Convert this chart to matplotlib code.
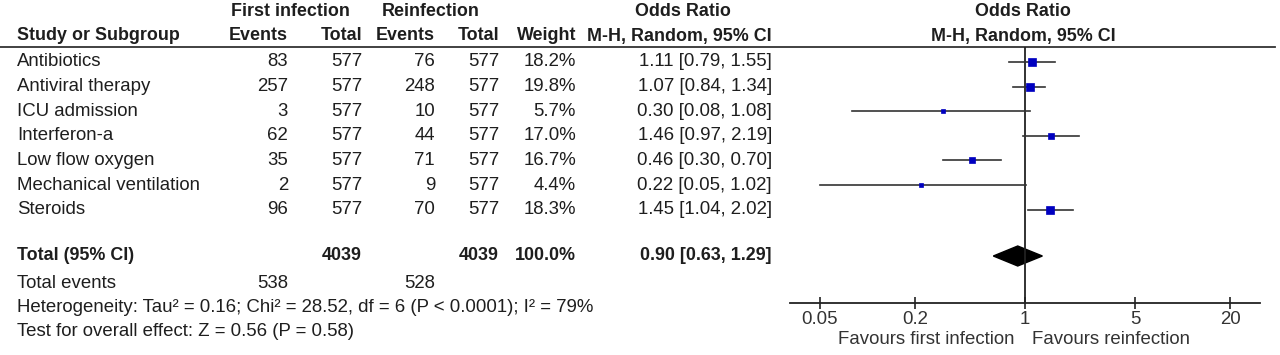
import numpy as np
from matplotlib import pyplot as plt

plt.rcParams['font.family'] = ['Liberation Sans', 'DejaVu Sans']

# data
studies = ["Antibiotics", "Antiviral therapy", "ICU admission", "Interferon-a",
           "Low flow oxygen", "Mechanical ventilation", "Steroids"]
ev_first = [83, 257, 3, 62, 35, 2, 96]
tot_first = [577, 577, 577, 577, 577, 577, 577]
ev_re = [76, 248, 10, 44, 71, 9, 70]
tot_re = [577, 577, 577, 577, 577, 577, 577]
weight = [18.2, 19.8, 5.7, 17.0, 16.7, 4.4, 18.3]
odds = [1.11, 1.07, 0.30, 1.46, 0.46, 0.22, 1.45]
ci_lo = [0.79, 0.84, 0.08, 0.97, 0.30, 0.05, 1.04]
ci_hi = [1.55, 1.34, 1.08, 2.19, 0.70, 1.02, 2.02]

total_first, total_re = 4039, 4039
total_weight = 100.0
events_first, events_re = 538, 528
pooled = (0.90, 0.63, 1.29)
xticks = [0.05, 0.2, 1, 5, 20]

W, H = 1280, 355
fig = plt.figure(figsize=(W / 100, H / 100), dpi=100)

# table area, in pixel coordinates
tab = fig.add_axes([0, 0, 1, 1])
tab.set_xlim(0, W)
tab.set_ylim(H, 0)
tab.axis("off")

fs = 13.4      # regular text
fsb = 12.9     # bold text
dark = "#1e1e1e"
row_y = [62 + 24.6 * i for i in range(len(studies))]
col_x = [288, 362, 435, 499, 576, 772]

def t(x, y, s, ha="right", bold=False, color=dark):
    tab.text(x, y, s, ha=ha, va="center", fontsize=fsb if bold else fs,
             color=color, fontweight="bold" if bold else "normal")

# headers
t(290, 12, "First infection", ha="center", bold=True)
t(431, 12, "Reinfection", ha="center", bold=True)
t(683, 12, "Odds Ratio", ha="center", bold=True)
t(1023, 12, "Odds Ratio", ha="center", bold=True)
t(17, 36, "Study or Subgroup", ha="left", bold=True)
t(col_x[0], 36, "Events", bold=True)
t(col_x[1], 36, "Total", bold=True)
t(col_x[2], 36, "Events", bold=True)
t(col_x[3], 36, "Total", bold=True)
t(col_x[4], 36, "Weight", bold=True)
t(col_x[5], 36, "M-H, Random, 95% CI", bold=True)
t(1023, 36, "M-H, Random, 95% CI", ha="center", bold=True)
tab.plot([0, 1275], [47, 47], color="#333333", lw=1.3)

for i, name in enumerate(studies):
    y = row_y[i]
    t(17, y, name, ha="left")
    t(col_x[0], y, str(ev_first[i]))
    t(col_x[1], y, str(tot_first[i]))
    t(col_x[2], y, str(ev_re[i]))
    t(col_x[3], y, str(tot_re[i]))
    t(col_x[4], y, f"{weight[i]:.1f}%")
    t(col_x[5], y, f"{odds[i]:.2f} [{ci_lo[i]:.2f}, {ci_hi[i]:.2f}]")

ty = 256
t(17, ty, "Total (95% CI)", ha="left", bold=True)
t(col_x[1], ty, str(total_first), bold=True)
t(col_x[3], ty, str(total_re), bold=True)
t(col_x[4], ty, f"{total_weight:.1f}%", bold=True)
t(col_x[5], ty, f"{pooled[0]:.2f} [{pooled[1]:.2f}, {pooled[2]:.2f}]", bold=True)

t(17, 283, "Total events", ha="left")
t(col_x[0], 283, str(events_first))
t(col_x[2], 283, str(events_re))
t(17, 307, "Heterogeneity: Tau\u00b2 = 0.16; Chi\u00b2 = 28.52, df = 6 (P < 0.0001); I\u00b2 = 79%", ha="left")
t(17, 331, "Test for overall effect: Z = 0.56 (P = 0.58)", ha="left")

t(1015, 340, "Favours first infection", color="#333333")
t(1032, 340, "Favours reinfection", ha="left", color="#333333")

# forest plot
top, bot = 47, 303
ax = fig.add_axes([790 / W, (H - bot) / H, 470 / W, (bot - top) / H])
ax.set_xscale("log")
ax.set_xlim(0.0323, 31)
ax.set_ylim(bot, top)
ax.patch.set_alpha(0)
for s in ["top", "left", "right"]:
    ax.spines[s].set_visible(False)
ax.spines["bottom"].set_linewidth(1.3)
ax.spines["bottom"].set_color("#222222")
ax.set_yticks([])
ax.set_xticks(xticks)
ax.set_xticklabels([f"{v:g}" for v in xticks])
ax.minorticks_off()
ax.tick_params(axis="x", direction="inout", length=9, width=1.2, color="#222222",
               labelsize=fs, labelcolor="#333333", pad=1.5)
ax.axvline(1, color="#222222", lw=1.3)

for i in range(len(studies)):
    y = row_y[i]
    ax.plot([ci_lo[i], ci_hi[i]], [y, y], color="#333333", lw=1.2)
    ax.plot(odds[i], y, marker="s", ms=1.2 * np.sqrt(weight[i]),
            color="#0000c0", mec="#0000c0", mew=0.5)

est, lo, hi = pooled
dh = 10
ax.fill([lo, est, hi, est], [ty, ty - dh, ty, ty + dh], color="black")

fig.savefig("out.png", dpi=100)
